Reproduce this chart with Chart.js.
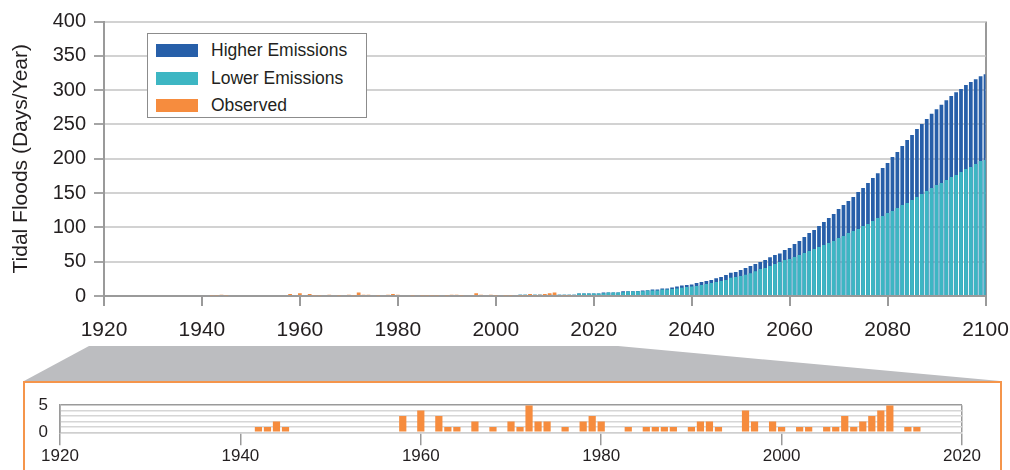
<!DOCTYPE html>
<html>
<head>
<meta charset="utf-8">
<script src="https://cdn.jsdelivr.net/npm/chart.js@4/dist/chart.umd.min.js"></script>
<style>
  body { margin: 0; width: 1010px; height: 470px; overflow: hidden; background: #fff;
         font-family: "Liberation Sans", Arial, sans-serif; color: #231f20; }
  #main-wrap { position: absolute; left: 0; top: 0; width: 1010px; height: 345px; }
  #inset-wrap { position: absolute; left: 0; top: 383px; width: 1010px; height: 87px; }
  #zoom-shape { position: absolute; left: 0; top: 0; }
  #inset-box { position: absolute; left: 23px; top: 381px; width: 975px; height: 120px;
               border: 2px solid #f5954b; box-sizing: content-box; }
  #legend { position: absolute; left: 147px; top: 33px; width: 220px; height: 85px;
            box-sizing: border-box; border: 1px solid #8c8c8c; background: #fff; }
  .lg-item { position: absolute; left: 8px; height: 20px; }
  .lg-swatch { position: absolute; left: 0; top: 4px; width: 42px; height: 13px; }
  .lg-text { position: absolute; left: 55px; top: 0; font-size: 17.5px; line-height: 20px; white-space: nowrap; }
</style>
</head>
<body>
<svg id="zoom-shape" width="1010" height="470">
  <polygon points="89,346 618,346 1000,381 24,381" fill="#bcbdc0"></polygon>
</svg>
<div id="inset-box"></div>
<div id="main-wrap"><canvas id="mainChart"></canvas></div>
<div id="inset-wrap"><canvas id="insetChart"></canvas></div>
<div id="legend"></div>
<script>
// observed tidal flood days
const obsYears = [1942, 1943, 1944, 1945, 1958, 1960, 1962, 1963, 1964, 1966, 1968, 1970, 1971, 1972, 1973, 1974,
  1976, 1978, 1979, 1980, 1983, 1985, 1986, 1987, 1988, 1990, 1991, 1992, 1993, 1996, 1997, 1999, 2000,
  2002, 2003, 2005, 2006, 2007, 2008, 2009, 2010, 2011, 2012, 2014, 2015];
const obsDays = [1, 1, 2, 1, 3, 4, 3, 1, 1, 2, 1, 2, 1, 5, 2, 2,
  1, 2, 3, 2, 1, 1, 1, 1, 1, 1, 2, 2, 1, 4, 2, 2, 1,
  1, 1, 1, 1, 3, 1, 2, 3, 4, 5, 1, 1];

// projections, one value per year from 2005 to 2100
const projStart = 2005;
const lowerDays = [2, 2, 2, 2, 2, 2, 2, 2, 2, 2, 2, 2,
  3.5, 3.5, 3.5, 3.5, 3.5,
  4, 5, 5, 5, 5.4, 6.4, 6.4, 6.9,
  7, 8, 8, 8, 9.3, 9.3, 10.3, 10.8, 12.2, 13,
  13.7, 14.6, 16, 17.5, 19, 20.4, 21.8, 23.3, 26.7, 27.7,
  29, 31, 33, 36, 39.3, 40.8, 43.7, 46.6, 49.5, 52.4,
  54, 56.8, 59.7, 62.6, 65.5, 68.4, 71.4, 74.3, 77.2, 80,
  84.5, 87.6, 91.7, 94.7, 97.6, 102, 104.9, 109.2, 113.6, 116.5,
  120.9, 123.8, 128.2, 132.5, 135.4, 139.8, 144.2, 148.5, 152.9, 157.3,
  161.7, 164.6, 169, 173.3, 176.2, 180.6, 185, 188, 192.2, 196.6, 198];
const higherDays = [2, 2, 2, 2, 2, 2, 2, 2, 2, 2, 2, 2,
  3.5, 3.5, 3.5, 3.5, 3.5,
  5, 5, 5, 5, 7, 6.8, 6.8, 7.2,
  8, 8.5, 9.3, 9.3, 10.8, 10.8, 12.3, 13.7, 15.2, 16,
  16.7, 19, 20.4, 21.8, 23.3, 25.7, 27.7, 30.6, 34, 35,
  37.9, 40.8, 43.7, 46.6, 49.5, 52.4, 56.3, 59.7, 62, 67,
  70, 75.7, 80, 86, 91.7, 96, 102, 107.8, 113.6, 119.4,
  126.7, 132.5, 138.3, 144.2, 151.5, 157.3, 164.6, 171.8, 179, 186.4,
  193.7, 202.4, 209.7, 218.4, 227.2, 234.5, 243.2, 250.5, 257.8, 265.5,
  272.3, 278.6, 285.4, 291.3, 297, 301.5, 307.3, 311.7, 316, 320.4, 323.3];

const mainYTicks = [0, 50, 100, 150, 200, 250, 300, 350, 400];
const mainXTicks = [1920, 1940, 1960, 1980, 2000, 2020, 2040, 2060, 2080, 2100];
const insetXTicks = [1920, 1940, 1960, 1980, 2000, 2020];
const insetYTicks = [0, 1, 2, 3, 4, 5];
const insetYLabels = [0, 5];

const seriesNames = ['Higher Emissions', 'Lower Emissions', 'Observed'];
const colHigher = '#275fa9';
const colLower = '#3db6c3';
const colObserved = '#f68c3e';

const FONT = '"Liberation Sans", Arial, sans-serif';
const TXT = '#231f20';

const toPoints = (xs, ys) => xs.map((x, i) => ({ x: x, y: ys[i] }));
const projPoints = vals => vals.map((v, i) => ({ x: projStart + i, y: v }));
const noPad = s => { s.paddingLeft = 0; s.paddingRight = 0; };

// html legend
const legend = document.getElementById('legend');
[colHigher, colLower, colObserved].forEach((c, i) => {
  const item = document.createElement('div');
  item.className = 'lg-item';
  item.style.top = (6 + i * 27.5) + 'px';
  item.innerHTML = `<div class="lg-swatch" style="background:${c}"></div><div class="lg-text">${seriesNames[i]}</div>`;
  legend.appendChild(item);
});

// main chart - first dataset is drawn on top
new Chart(document.getElementById('mainChart'), {
  type: 'bar',
  data: {
    datasets: [
      { label: seriesNames[2], data: toPoints(obsYears, obsDays), backgroundColor: colObserved, grouped: false },
      { label: seriesNames[1], data: projPoints(lowerDays), backgroundColor: colLower, grouped: false },
      { label: seriesNames[0], data: projPoints(higherDays), backgroundColor: colHigher, grouped: false }
    ]
  },
  options: {
    responsive: true,
    maintainAspectRatio: false,
    animation: false,
    devicePixelRatio: 1,
    layout: { padding: { top: 21.5, right: 24.5, left: 0, bottom: 0 } },
    datasets: { bar: { barPercentage: 0.76, categoryPercentage: 1 } },
    plugins: { legend: { display: false }, tooltip: { enabled: false } },
    scales: {
      x: {
        type: 'linear', min: 1920, max: 2100, offset: false,
        afterBuildTicks: s => { s.ticks = mainXTicks.map(v => ({ value: v })); },
        afterFit: s => { s.height = 49; noPad(s); },
        grid: {
          offset: false, drawOnChartArea: true, lineWidth: 2, tickLength: 10, tickColor: '#9a9a9a',
          color: c => (c.tick && c.tick.value === 2100) ? '#9a9a9a' : 'rgba(0,0,0,0)'
        },
        border: { color: '#9a9a9a', width: 2 },
        ticks: { color: TXT, font: { family: FONT, size: 21 }, padding: 12, maxRotation: 0, autoSkip: false,
                 callback: v => String(v) }
      },
      y: {
        min: 0, max: 400,
        afterBuildTicks: s => { s.ticks = mainYTicks.map(v => ({ value: v })); },
        afterFit: s => { s.width = 104; },
        grid: {
          lineWidth: 2, tickLength: 10, tickColor: '#a5a5a5',
          color: c => (c.tick && c.tick.value === 0) ? '#9a9a9a' : '#d2d2d2'
        },
        border: { color: '#9a9a9a', width: 2 },
        ticks: { color: TXT, font: { family: FONT, size: 20 }, padding: 8, autoSkip: false,
                 callback: v => String(v) },
        title: {
          display: true, text: 'Tidal Floods (Days/Year)', color: TXT,
          font: { family: FONT, size: 21 }, padding: { top: 9, bottom: 0 }
        }
      }
    }
  }
});

// inset with observed only
new Chart(document.getElementById('insetChart'), {
  type: 'bar',
  data: {
    datasets: [
      { label: seriesNames[2], data: toPoints(obsYears, obsDays), backgroundColor: colObserved }
    ]
  },
  options: {
    responsive: true,
    maintainAspectRatio: false,
    animation: false,
    devicePixelRatio: 1,
    layout: { padding: { top: 19.7, right: 48, left: 0, bottom: 0 } },
    datasets: { bar: { barPercentage: 0.8, categoryPercentage: 1 } },
    plugins: { legend: { display: false }, tooltip: { enabled: false } },
    scales: {
      x: {
        type: 'linear', min: 1920, max: 2020, offset: false,
        afterBuildTicks: s => { s.ticks = insetXTicks.map(v => ({ value: v })); },
        afterFit: s => { s.height = 37.7; noPad(s); },
        grid: {
          offset: false, drawOnChartArea: true, lineWidth: 1.5, tickLength: 13, tickColor: '#9a9a9a',
          color: c => (c.tick && (c.tick.value === 1920 || c.tick.value === 2020)) ? '#9a9a9a' : 'rgba(0,0,0,0)'
        },
        border: { color: '#cfcfcf', width: 1.5 },
        ticks: { color: TXT, font: { family: FONT, size: 17 }, padding: 1, maxRotation: 0, autoSkip: false,
                 callback: v => String(v) }
      },
      y: {
        min: 0, max: 5,
        afterBuildTicks: s => { s.ticks = insetYTicks.map(v => ({ value: v })); },
        afterFit: s => { s.width = 60; },
        ticks: {
          color: TXT, font: { family: FONT, size: 17 }, padding: 12, autoSkip: false,
          callback: v => insetYLabels.includes(v) ? String(v) : ''
        },
        grid: {
          drawTicks: false, lineWidth: 1.5,
          color: c => (c.tick && c.tick.value === 5) ? '#9a9a9a' : '#d6d6d6'
        },
        border: { color: '#9a9a9a', width: 1.5 }
      }
    }
  }
});
</script>
</body>
</html>
